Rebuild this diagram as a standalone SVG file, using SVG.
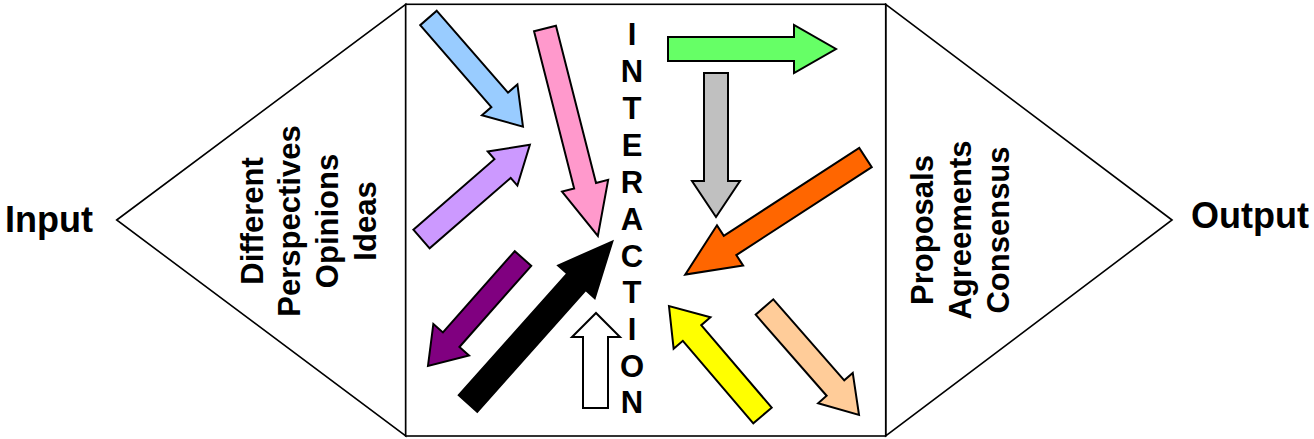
<svg xmlns="http://www.w3.org/2000/svg" width="1314" height="439" viewBox="0 0 1314 439">
  <style>
    .frame { fill: #ffffff; stroke: #000000; stroke-width: 1.6; stroke-linejoin: miter; }
    .arrow { stroke: #000000; stroke-width: 2; stroke-linejoin: miter; }
    .side { font-family: "Liberation Sans", Arial, sans-serif; font-weight: bold; font-size: 36px; fill: #000000; }
    .list { font-family: "Liberation Sans", Arial, sans-serif; font-weight: bold; font-size: 31px; fill: #000000; text-anchor: middle; }
    .word { font-family: "Liberation Sans", Arial, sans-serif; font-weight: bold; font-size: 31px; fill: #000000; text-anchor: middle; }
  </style>

  <!-- input funnel -->
  <g id="input-triangle">
    <polygon class="frame" points="116.7,220 405.7,4.3 405.7,436"/>
    <text class="list" transform="translate(263,221) rotate(-90)">Different</text>
    <text class="list" transform="translate(300,221) rotate(-90)">Perspectives</text>
    <text class="list" transform="translate(338,221) rotate(-90)">Opinions</text>
    <text class="list" transform="translate(376,221) rotate(-90)">Ideas</text>
  </g>

  <!-- output funnel -->
  <g id="output-triangle">
    <polygon class="frame" points="1172,220 885.7,4.3 885.7,436"/>
    <text class="list" transform="translate(933,230) rotate(-90)">Proposals</text>
    <text class="list" transform="translate(971,230) rotate(-90)">Agreements</text>
    <text class="list" transform="translate(1009,230) rotate(-90)">Consensus</text>
  </g>

  <!-- central interaction box -->
  <g id="interaction-box">
    <rect class="frame" x="405.7" y="4.3" width="480" height="431.7"/>
    <text class="word" x="632" y="45">I</text>
    <text class="word" x="632" y="82">N</text>
    <text class="word" x="632" y="118.5">T</text>
    <text class="word" x="632" y="155.5">E</text>
    <text class="word" x="632" y="192.5">R</text>
    <text class="word" x="632" y="229.5">A</text>
    <text class="word" x="632" y="266.5">C</text>
    <text class="word" x="632" y="303">T</text>
    <text class="word" x="632" y="340">I</text>
    <text class="word" x="632" y="377">O</text>
    <text class="word" x="632" y="413">N</text>
  </g>

  <g id="input-label">
    <text class="side" x="5" y="232">Input</text>
  </g>
  <g id="output-label">
    <text class="side" x="1191" y="228">Output</text>
  </g>

  <!-- block arrows: local shape runs along +x from the tail centre -->
  <g id="arrows">
    <polygon id="arrow-blue" class="arrow" fill="#99CCFF" transform="translate(428.5,18) rotate(49)"
      points="0,-11 108.5,-11 108.5,-23.5 144,0 108.5,23.5 108.5,11 0,11"/>
    <polygon id="arrow-pink" class="arrow" fill="#FF99CC" transform="translate(545,28.5) rotate(75.7)"
      points="0,-11.3 162.3,-11.3 162.3,-23.8 214,0 162.3,23.8 162.3,11.3 0,11.3"/>
    <polygon id="arrow-lilac" class="arrow" fill="#CC99FF" transform="translate(421.5,239) rotate(-41)"
      points="0,-12.4 107.4,-12.4 107.4,-22.6 143.6,0 107.4,22.6 107.4,12.4 0,12.4"/>
    <polygon id="arrow-plum" class="arrow" fill="#800080" transform="translate(523,258.5) rotate(131.5)"
      points="0,-11 108.4,-11 108.4,-23.8 143.4,0 108.4,23.8 108.4,11 0,11"/>
    <polygon id="arrow-black" class="arrow" fill="#000000" transform="translate(468,403.5) rotate(-48.3)"
      points="0,-12.4 163,-12.4 163,-24.5 217,0 163,24.5 163,12.4 0,12.4"/>
    <polygon id="arrow-white" class="arrow" fill="#FFFFFF"
      points="583,408 583,337 572,337 596,313 620,337 608,337 608,408"/>
    <polygon id="arrow-green" class="arrow" fill="#66FF66"
      points="668,37 794,37 794,25 836,49 794,73 794,61 668,61"/>
    <polygon id="arrow-grey" class="arrow" fill="#C0C0C0"
      points="704,73 728,73 728,181 740,181 716,217 692,181 704,181"/>
    <polygon id="arrow-orange" class="arrow" fill="#FF6600" transform="translate(865.5,157.5) rotate(147)"
      points="0,-11.5 161.5,-11.5 161.5,-24 215,0 161.5,24 161.5,11.5 0,11.5"/>
    <polygon id="arrow-yellow" class="arrow" fill="#FFFF00" transform="translate(762.5,415.5) rotate(-130.5)"
      points="0,-12.1 108.5,-12.1 108.5,-24.2 144,0 108.5,24.2 108.5,12.1 0,12.1"/>
    <polygon id="arrow-peach" class="arrow" fill="#FFCC99" transform="translate(764.5,307) rotate(48.8)"
      points="0,-11.7 107.7,-11.7 107.7,-23 143.5,0 107.7,23 107.7,11.7 0,11.7"/>
  </g>
</svg>
